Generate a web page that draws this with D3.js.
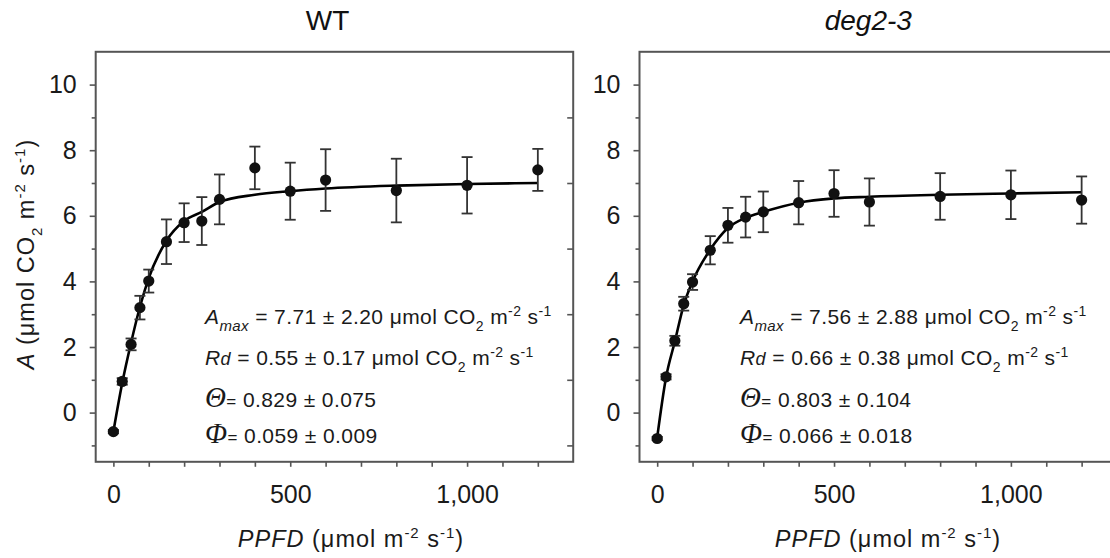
<!DOCTYPE html>
<html>
<head>
<meta charset="utf-8">
<script src="https://cdn.jsdelivr.net/npm/d3@7"></script>
<style>
  body { margin: 0; background: #fff; }
  svg { display: block; font-family: "Liberation Sans", Arial, sans-serif; }
  .tick line { stroke: #555; stroke-width: 1.6; }
  .tick text { fill: #1a1a1a; font-size: 25px; }
</style>
</head>
<body>
<svg id="chart" width="1110" height="558"></svg>
<script>
// light levels (PPFD, µmol m-2 s-1)
var ppfd = [0, 25, 50, 75, 100, 150, 200, 250, 300, 400, 500, 600, 800, 1000, 1200];

// WT: mean A, error, fitted curve
var wtMean = [-0.58, 0.95, 2.08, 3.20, 4.01, 5.21, 5.79, 5.84, 6.50, 7.46, 6.75, 7.09, 6.77, 6.93, 7.40];
var wtErr  = [0.05, 0.10, 0.18, 0.36, 0.35, 0.68, 0.59, 0.73, 0.76, 0.65, 0.87, 0.94, 0.97, 0.86, 0.64];
var wtFit  = [-0.58, 0.90, 2.13, 3.22, 4.10, 5.24, 5.84, 6.12, 6.42, 6.64, 6.75, 6.83, 6.92, 6.97, 7.00];
var wtParams = ['7.71 \u00b1 2.20', '0.55 \u00b1 0.17', '0.829 \u00b1 0.075', '0.059 \u00b1 0.009'];

// deg2-3
var degMean = [-0.79, 1.09, 2.19, 3.32, 3.98, 4.95, 5.71, 5.96, 6.12, 6.40, 6.68, 6.42, 6.59, 6.64, 6.48];
var degErr  = [0.05, 0.08, 0.15, 0.21, 0.24, 0.43, 0.53, 0.62, 0.62, 0.66, 0.71, 0.72, 0.71, 0.74, 0.72];
var degFit  = [-0.76, 1.07, 2.17, 3.28, 4.00, 4.97, 5.63, 5.94, 6.12, 6.40, 6.53, 6.58, 6.64, 6.68, 6.72];
var degParams = ['7.56 \u00b1 2.88', '0.66 \u00b1 0.38', '0.803 \u00b1 0.104', '0.066 \u00b1 0.018'];

// axes
var yMajor = [0, 2, 4, 6, 8, 10];
var yMinor = [-1, 1, 3, 5, 7, 9];
var xTicks = [0, 100, 200, 300, 400, 500, 600, 700, 800, 900, 1000, 1100, 1200];
var xLabeled = [0, 500, 1000];

var panels = [
  { title: 'WT', italic: false, left: 95.7, titleX: 327.5, mean: wtMean, err: wtErr, fit: wtFit, params: wtParams, noteX: 205, xLabelX: 351 },
  { title: 'deg2-3', italic: true, left: 639.5, titleX: 868.3, mean: degMean, err: degErr, fit: degFit, params: degParams, noteX: 740, xLabelX: 888 }
];

var svg = d3.select('#chart');
var plotTop = 51.8, W = 477.5, H = 410;

//writes a text made of styled pieces (italics, sub/superscripts)
function rich(sel, parts) {
  parts.forEach(function (p) {
    var t = sel.append('tspan').text(p.t);
    if (p.it) t.attr('font-style', 'italic');
    if (p.size) t.attr('font-size', p.size);
    if (p.dy) t.attr('dy', p.dy);
    if (p.serif) t.attr('font-family', '"Liberation Serif", "Times New Roman", serif');
  });
  return sel;
}

function unitParts(size) {
  return [
    { t: ' \u03bcmol CO', dy: 0 },
    { t: '2', size: size, dy: 7 },
    { t: ' m', dy: -7 },
    { t: '-2', size: size, dy: -8 },
    { t: ' s', dy: 8 },
    { t: '-1', size: size, dy: -8 }
  ];
}

panels.forEach(function (p, pi) {
  var x = d3.scaleLinear().domain([-50, 1300]).range([0, W]);
  var y = d3.scaleLinear().domain([-1.5, 11]).range([H, 0]);

  var g = svg.append('g').attr('transform', 'translate(' + p.left + ',' + plotTop + ')');

  //title
  svg.append('text')
    .attr('x', p.titleX).attr('y', 29.5)
    .attr('text-anchor', 'middle')
    .attr('font-size', 28)
    .attr('font-style', p.italic ? 'italic' : 'normal')
    .attr('fill', '#111')
    .text(p.title);

  //ticks
  g.append('g')
    .call(d3.axisLeft(y).tickValues(yMajor).tickSize(6).tickPadding(13).tickFormat(d3.format('d')));
  g.append('g')
    .call(d3.axisLeft(y).tickValues(yMinor).tickSize(4).tickFormat(''));
  g.append('g').attr('transform', 'translate(' + W + ',0)')
    .call(d3.axisLeft(y).tickValues(yMinor).tickSize(6).tickFormat(''));
  g.append('g').attr('transform', 'translate(0,' + H + ')')
    .call(d3.axisBottom(x).tickValues(xTicks).tickSize(5).tickPadding(18)
      .tickFormat(function (d) { return xLabeled.indexOf(d) >= 0 ? d3.format(',')(d) : ''; }));
  g.selectAll('.domain').remove();

  //frame
  g.append('rect')
    .attr('width', W).attr('height', H)
    .attr('fill', 'none').attr('stroke', '#555').attr('stroke-width', 2);

  //fitted curve
  var line = d3.line()
    .x(function (d, i) { return x(ppfd[i]); })
    .y(function (d) { return y(d); })
    .curve(d3.curveMonotoneX);
  g.append('path').datum(p.fit)
    .attr('d', line)
    .attr('fill', 'none').attr('stroke', '#000').attr('stroke-width', 2.6);

  //error bars
  var bars = g.selectAll('g.bar').data(p.mean).enter().append('g').attr('class', 'bar')
    .attr('stroke', '#333').attr('stroke-width', 1.8);
  bars.append('line')
    .attr('x1', function (d, i) { return x(ppfd[i]); })
    .attr('x2', function (d, i) { return x(ppfd[i]); })
    .attr('y1', function (d, i) { return y(d + p.err[i]); })
    .attr('y2', function (d, i) { return y(d - p.err[i]); });
  [1, -1].forEach(function (s) {
    bars.append('line')
      .attr('x1', function (d, i) { return x(ppfd[i]) - 5.5; })
      .attr('x2', function (d, i) { return x(ppfd[i]) + 5.5; })
      .attr('y1', function (d, i) { return y(d + s * p.err[i]); })
      .attr('y2', function (d, i) { return y(d + s * p.err[i]); });
  });

  //points
  g.selectAll('circle.pt').data(p.mean).enter().append('circle')
    .attr('class', 'pt')
    .attr('cx', function (d, i) { return x(ppfd[i]); })
    .attr('cy', function (d) { return y(d); })
    .attr('r', 5.6)
    .attr('fill', '#111');

  //parameter notes
  var notes = svg.append('g').attr('font-size', 21).attr('letter-spacing', 0.4).attr('fill', '#1a1a1a');
  rich(notes.append('text').attr('x', p.noteX).attr('y', 324),
    [{ t: 'A', it: true }, { t: 'max', it: true, size: 15, dy: 7 }, { t: ' = ' + p.params[0], dy: -7 }].concat(unitParts(14)));
  rich(notes.append('text').attr('x', p.noteX).attr('y', 365),
    [{ t: 'R', it: true }, { t: 'd', it: true, size: 18 }, { t: ' = ' + p.params[1] }].concat(unitParts(14)));
  rich(notes.append('text').attr('x', p.noteX).attr('y', 407),
    [{ t: '\u0398', it: true, serif: true, size: 29 }, { t: '=', size: 17 }, { t: ' ' + p.params[2] }]);
  rich(notes.append('text').attr('x', p.noteX).attr('y', 443),
    [{ t: '\u03a6', it: true, serif: true, size: 29 }, { t: '=', size: 17 }, { t: ' ' + p.params[3] }]);

  //x axis label
  rich(svg.append('text').attr('x', p.xLabelX).attr('y', 547).attr('text-anchor', 'middle')
      .attr('font-size', 23.5).attr('letter-spacing', 1).attr('fill', '#1a1a1a'),
    [{ t: 'PPFD', it: true }, { t: ' (\u03bcmol m' }, { t: '-2', size: 15, dy: -9 }, { t: ' s', dy: 9 },
     { t: '-1', size: 15, dy: -9 }, { t: ')', dy: 9 }]);

  //y axis label, only on the first panel
  if (pi === 0) {
    rich(svg.append('text').attr('transform', 'translate(34,254) rotate(-90)').attr('text-anchor', 'middle')
        .attr('font-size', 23.5).attr('letter-spacing', 1).attr('fill', '#1a1a1a'),
      [{ t: 'A', it: true }, { t: ' (\u03bcmol CO' }, { t: '2', size: 15, dy: 8 }, { t: ' m', dy: -8 },
       { t: '-2', size: 15, dy: -9 }, { t: ' s', dy: 9 }, { t: '-1', size: 15, dy: -9 }, { t: ')', dy: 9 }]);
  }
});
</script>
</body>
</html>
